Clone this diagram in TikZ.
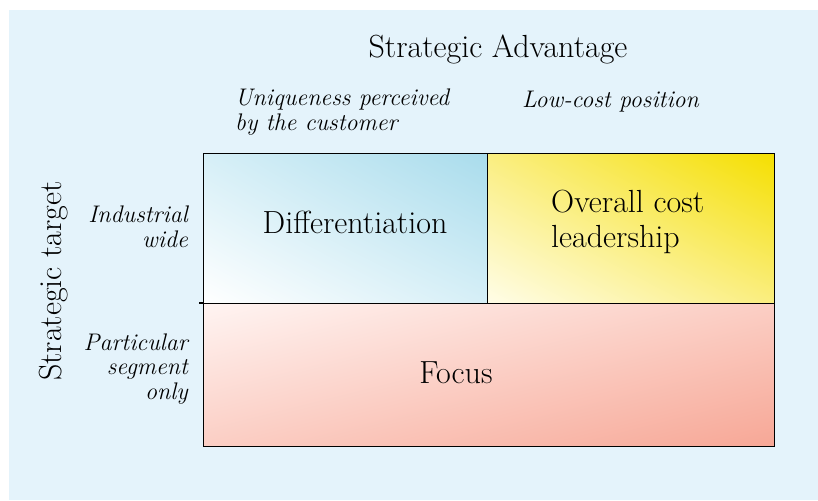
\documentclass[tikz,border=0pt]{standalone}
\usetikzlibrary{shadings}
\definecolor{bgblue}{HTML}{E4F3FB}
\definecolor{diffhi}{HTML}{A9DCEC}
\definecolor{diffmid}{HTML}{D6EFF7}
\definecolor{costhi}{HTML}{F5DF00}
\definecolor{costmid}{HTML}{FAEE80}
\definecolor{costlo}{HTML}{FFFDE8}
\definecolor{foclo}{HTML}{FFF4F2}
\definecolor{focmid}{HTML}{FBCEC4}
\definecolor{fochi}{HTML}{F7A796}
\begin{document}
\begin{tikzpicture}[x=1pt,y=-1pt,
  cell/.style={draw=black, line width=1.4pt, rectangle, inner sep=0pt, anchor=north west},
  bigtext/.style={font=\fontsize{32}{35}\selectfont, inner sep=0pt},
  itext/.style={font=\fontsize{24}{24.5}\selectfont\itshape, inner sep=0pt}]
\useasboundingbox (0,0) rectangle (818,500);
\fill[bgblue] (9,10) rectangle (818,500);
% cells
\node[cell, minimum width=284pt, minimum height=150pt, shade,
  upper left=diffmid, upper right=diffhi, lower left=white, lower right=diffmid] (diff) at (203,153) {};
\node[cell, minimum width=287pt, minimum height=150pt, shade,
  upper left=costmid, upper right=costhi, lower left=costlo, lower right=costmid] (cost) at (487,153) {};
\node[cell, minimum width=571pt, minimum height=143pt, shade,
  upper left=foclo, upper right=focmid, lower left=focmid, lower right=fochi] (focus) at (203,303) {};
\coordinate (tick) at (199,303);
\draw[line width=1.4pt] (tick) -- (focus.north west);
% texts
\node[bigtext, anchor=base] (title) at (498,58) {Strategic Advantage};
\node[itext, anchor=base west, align=left] (uniq) at (235,130) {Uniqueness perceived\\by the customer};
\node[itext, anchor=base west, align=left] (low) at (522,107) {Low-cost position};
\node[bigtext, anchor=base] (difft) at (355,233) {Differentiation};
\node[bigtext, anchor=base west, align=left] (costt) at (551,247) {Overall cost\\leadership};
\node[bigtext, anchor=base] (foct) at (456,383) {Focus};
\node[bigtext, rotate=90, anchor=center] (target) at (54,281) {Strategic target};
\node[itext, anchor=base east, align=right] (indw) at (188,247) {Industrial\\wide};
\node[itext, anchor=base east, align=right] (part) at (188,399) {Particular\\segment\\only};
\end{tikzpicture}
\end{document}
